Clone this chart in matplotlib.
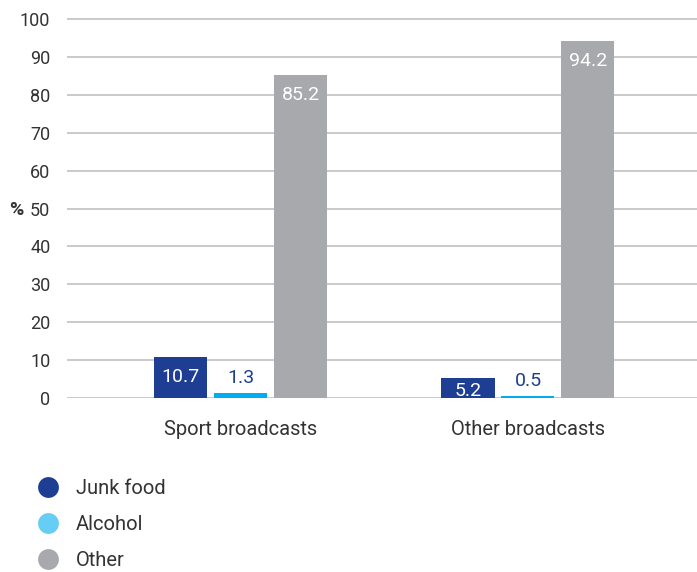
import matplotlib
matplotlib.use("Agg")
import matplotlib.pyplot as plt
from matplotlib.lines import Line2D
import numpy as np

plt.rcParams["font.family"] = ["Roboto", "DejaVu Sans"]

CATEGORIES = ["Sport broadcasts", "Other broadcasts"]
SERIES = ["Junk food", "Alcohol", "Other"]
VALUES = {
    "Junk food": [10.7, 5.2],
    "Alcohol": [1.3, 0.5],
    "Other": [85.2, 94.2],
}
Y_TICKS = list(range(0, 101, 10))

BAR_COLORS = {"Junk food": "#1d3e93", "Alcohol": "#00aeef", "Other": "#a7a9ac"}
LEGEND_COLORS = {"Junk food": "#1d3e93", "Alcohol": "#66cdf5", "Other": "#a7a9ac"}
TEXT = "#333333"

fig = plt.figure(figsize=(6.97, 5.72), dpi=100)
ax = fig.add_axes([0.0961, 0.3042, 0.9039, 0.6692])

x = np.arange(len(CATEGORIES))
width = 0.185
step = 0.209

for k, name in enumerate(SERIES):
    xs = x + (k - 1) * step
    vals = VALUES[name]
    ax.bar(xs, vals, width=width, color=BAR_COLORS[name], zorder=3)
    for xi, v in zip(xs, vals):
        if name == "Alcohol":
            ax.annotate(f"{v:.1f}", (xi, v), xytext=(0, 6), textcoords="offset pixels",
                        ha="center", va="bottom", fontsize=14, color="#1d3e93", zorder=4)
        else:
            # keep the label inside the bar even when the bar is short
            top = max(v - 2.9, 4.1)
            ax.text(xi, top, f"{v:.1f}", ha="center", va="top", fontsize=14,
                    color="white", zorder=4)

ax.set_xlim(-0.606, 1.589)
ax.set_ylim(0, 101)
ax.set_yticks(Y_TICKS)
ax.set_xticks(x)
ax.set_xticklabels(CATEGORIES, fontsize=14.5)
ax.tick_params(axis="both", length=0, colors=TEXT)
ax.tick_params(axis="y", pad=12, labelsize=13)
ax.tick_params(axis="x", pad=15.5)
ax.yaxis.grid(True, color="#c6c6c6", linewidth=1.3)
ax.set_axisbelow(True)
for s in ax.spines.values():
    s.set_visible(False)

fig.text(0.024, 1 - 210 / 572, "%", fontsize=14, fontweight="bold", color=TEXT,
         ha="center", va="center")

handles = [Line2D([], [], marker="o", linestyle="none", markersize=15,
                  markerfacecolor=LEGEND_COLORS[n], markeredgecolor="none")
           for n in SERIES]
fig.legend(handles, SERIES, loc="upper left", bbox_to_anchor=(0.028, 1 - 471 / 572),
           frameon=False, fontsize=14.5, labelcolor=TEXT, labelspacing=0.85,
           handletextpad=0.4, borderaxespad=0)

fig.savefig("out.png", dpi=100)
